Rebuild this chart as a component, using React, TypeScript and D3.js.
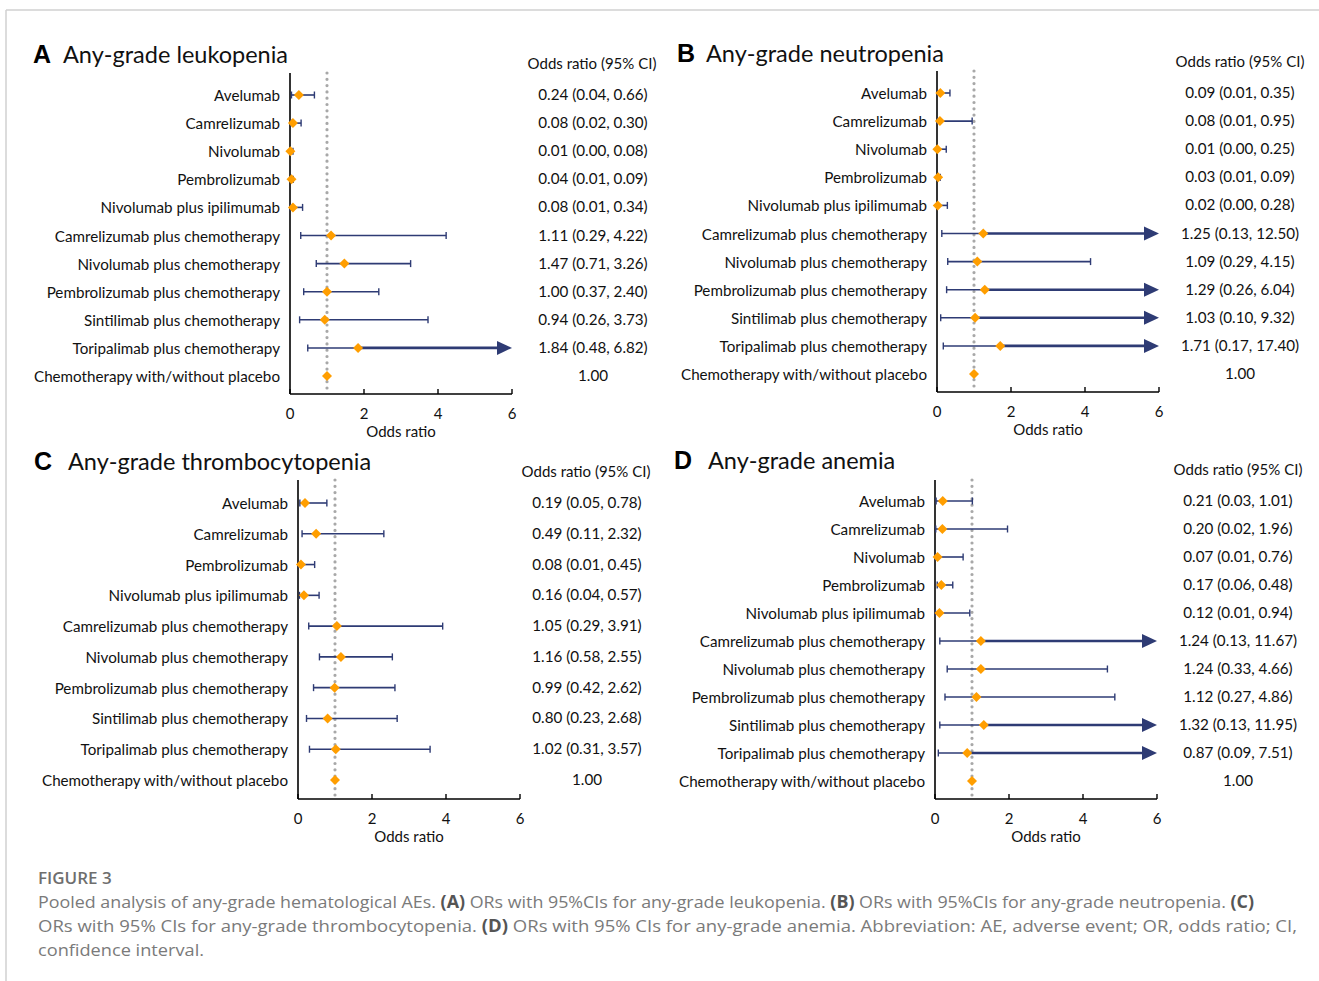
import React from "react";
import * as d3 from "d3";

// ---------- DATA ----------
const labelsABD = [
  "Avelumab",
  "Camrelizumab",
  "Nivolumab",
  "Pembrolizumab",
  "Nivolumab plus ipilimumab",
  "Camrelizumab plus chemotherapy",
  "Nivolumab plus chemotherapy",
  "Pembrolizumab plus chemotherapy",
  "Sintilimab plus chemotherapy",
  "Toripalimab plus chemotherapy",
  "Chemotherapy with/without placebo",
];
const labelsC = [
  "Avelumab",
  "Camrelizumab",
  "Pembrolizumab",
  "Nivolumab plus ipilimumab",
  "Camrelizumab plus chemotherapy",
  "Nivolumab plus chemotherapy",
  "Pembrolizumab plus chemotherapy",
  "Sintilimab plus chemotherapy",
  "Toripalimab plus chemotherapy",
  "Chemotherapy with/without placebo",
];

const orA = [0.24, 0.08, 0.01, 0.04, 0.08, 1.11, 1.47, 1.0, 0.94, 1.84, 1.0];
const loA = [0.04, 0.02, 0.0, 0.01, 0.01, 0.29, 0.71, 0.37, 0.26, 0.48, null];
const hiA = [0.66, 0.3, 0.08, 0.09, 0.34, 4.22, 3.26, 2.4, 3.73, 6.82, null];

const orB = [0.09, 0.08, 0.01, 0.03, 0.02, 1.25, 1.09, 1.29, 1.03, 1.71, 1.0];
const loB = [0.01, 0.01, 0.0, 0.01, 0.0, 0.13, 0.29, 0.26, 0.1, 0.17, null];
const hiB = [0.35, 0.95, 0.25, 0.09, 0.28, 12.5, 4.15, 6.04, 9.32, 17.4, null];

const orC = [0.19, 0.49, 0.08, 0.16, 1.05, 1.16, 0.99, 0.8, 1.02, 1.0];
const loC = [0.05, 0.11, 0.01, 0.04, 0.29, 0.58, 0.42, 0.23, 0.31, null];
const hiC = [0.78, 2.32, 0.45, 0.57, 3.91, 2.55, 2.62, 2.68, 3.57, null];

const orD = [0.21, 0.2, 0.07, 0.17, 0.12, 1.24, 1.24, 1.12, 1.32, 0.87, 1.0];
const loD = [0.03, 0.02, 0.01, 0.06, 0.01, 0.13, 0.33, 0.27, 0.13, 0.09, null];
const hiD = [1.01, 1.96, 0.76, 0.48, 0.94, 11.67, 4.66, 4.86, 11.95, 7.51, null];

const xTicks = [0, 2, 4, 6];
const xDomain = [0, 6];

// ---------- STYLE ----------
const FONT = "Lato, 'Open Sans', sans-serif";
const NAVY = "#2E3B74";
const ORANGE = "#FF9E00";
const DOT = "#A8A8A8";

type PanelProps = {
  letter: string;
  title: string;
  labels: string[];
  or: number[];
  lo: (number | null)[];
  hi: (number | null)[];
  x0: number;
  axisTop: number;
  axisY: number;
  rowFirst: number;
  rowLast: number;
  letterX: number;
  titleX: number;
  titleY: number;
  headerX: number;
  headerY: number;
  valueX: number;
};

const fmt = d3.format(".2f");

function Panel(p: PanelProps) {
  const x = d3.scaleLinear().domain(xDomain).range([p.x0, p.x0 + 222]);
  const y = d3.scalePoint<string>().domain(p.labels).range([p.rowFirst, p.rowLast]);
  const xMax = xDomain[1];
  return (
    <g>
      <text x={p.letterX} y={p.titleY} fontFamily="Liberation Sans, Arial, sans-serif" fontWeight="bold" fontSize={25} fill="#000" dominantBaseline="central">
        {p.letter}
      </text>
      <text x={p.titleX} y={p.titleY} fontFamily={FONT} fontSize={23.5} fill="#111" dominantBaseline="central">
        {p.title}
      </text>
      <text x={p.headerX} y={p.headerY} fontFamily={FONT} fontSize={15} fill="#111" textAnchor="middle" dominantBaseline="central">
        Odds ratio (95% CI)
      </text>
      {/* reference dotted line */}
      <line x1={x(1)} x2={x(1)} y1={p.axisTop} y2={p.axisY - 2} stroke={DOT} strokeWidth={3.2} strokeLinecap="round" strokeDasharray="0 6.3" />
      {/* axes */}
      <line x1={p.x0} x2={p.x0} y1={p.axisTop} y2={p.axisY} stroke="#000" strokeWidth={1.6} />
      <line x1={p.x0} x2={x(xMax)} y1={p.axisY} y2={p.axisY} stroke="#000" strokeWidth={1.6} />
      {xTicks.map((t) => (
        <g key={t}>
          <line x1={x(t)} x2={x(t)} y1={p.axisY} y2={p.axisY - 5} stroke="#000" strokeWidth={1.4} />
          <text x={x(t)} y={p.axisY + 19} fontFamily={FONT} fontSize={15} textAnchor="middle" dominantBaseline="central" fill="#111">
            {t}
          </text>
        </g>
      ))}
      <text x={x(3)} y={p.axisY + 37} fontFamily={FONT} fontSize={15} textAnchor="middle" dominantBaseline="central" fill="#111">
        Odds ratio
      </text>
      {p.labels.map((lab, i) => {
        const yy = y(lab)!;
        const lo = p.lo[i];
        const hi = p.hi[i];
        const or = p.or[i];
        const clipped = hi != null && hi > xMax;
        const d = 5;
        return (
          <g key={lab}>
            <text x={p.x0 - 10} y={yy} fontFamily={FONT} fontSize={15.2} textAnchor="end" dominantBaseline="central" fill="#111">
              {lab}
            </text>
            {lo != null && hi != null && (
              <g>
                {clipped ? (
                  <g>
                    <line x1={x(lo)} x2={x(or)} y1={yy} y2={yy} stroke={NAVY} strokeWidth={1.5} />
                    <line x1={x(or)} x2={x(xMax) - 12} y1={yy} y2={yy} stroke={NAVY} strokeWidth={2.6} />
                    <path d={`M${x(xMax)},${yy} L${x(xMax) - 15},${yy - 7} L${x(xMax) - 15},${yy + 7} Z`} fill={NAVY} />
                  </g>
                ) : (
                  <g>
                    <line x1={x(lo)} x2={x(hi)} y1={yy} y2={yy} stroke={NAVY} strokeWidth={1.6} />
                    <line x1={x(hi)} x2={x(hi)} y1={yy - 3.5} y2={yy + 3.5} stroke={NAVY} strokeWidth={1.4} />
                  </g>
                )}
                <line x1={x(lo)} x2={x(lo)} y1={yy - 3.5} y2={yy + 3.5} stroke={NAVY} strokeWidth={1.4} />
              </g>
            )}
            <path d={`M${x(or)},${yy - d} L${x(or) + d},${yy} L${x(or)},${yy + d} L${x(or) - d},${yy} Z`} fill={ORANGE} />
            <text x={p.valueX} y={yy - 1} fontFamily={FONT} fontSize={15.2} textAnchor="middle" dominantBaseline="central" fill="#111">
              {lo != null && hi != null ? `${fmt(or)} (${fmt(lo)}, ${fmt(hi)})` : fmt(or)}
            </text>
          </g>
        );
      })}
    </g>
  );
}

const CAP = "'Open Sans', sans-serif";
const CAPC = "#7a7a7a";

export default function App() {
  return (
    <svg width={1319} height={981} style={{ position: "absolute", left: 0, top: 0, background: "#fff" }}>
      <rect x={0} y={0} width={1319} height={981} fill="#fff" />
      <line x1={6} x2={1319} y1={10} y2={10} stroke="#d0d0d0" strokeWidth={1.5} />
      <line x1={6} x2={6} y1={10} y2={981} stroke="#d0d0d0" strokeWidth={1.5} />
      <Panel letter="A" title="Any-grade leukopenia" labels={labelsABD} or={orA} lo={loA} hi={hiA}
        x0={290} axisTop={73} axisY={394} rowFirst={95} rowLast={376}
        letterX={33} titleX={63} titleY={54} headerX={592} headerY={63} valueX={593} />
      <Panel letter="B" title="Any-grade neutropenia" labels={labelsABD} or={orB} lo={loB} hi={hiB}
        x0={937} axisTop={71} axisY={392} rowFirst={93} rowLast={374}
        letterX={677} titleX={706} titleY={53} headerX={1240} headerY={61} valueX={1240} />
      <Panel letter="C" title="Any-grade thrombocytopenia" labels={labelsC} or={orC} lo={loC} hi={hiC}
        x0={298} axisTop={480} axisY={799} rowFirst={503} rowLast={780}
        letterX={34} titleX={68} titleY={461} headerX={586} headerY={471} valueX={587} />
      <Panel letter="D" title="Any-grade anemia" labels={labelsABD} or={orD} lo={loD} hi={hiD}
        x0={935} axisTop={480} axisY={799} rowFirst={501} rowLast={781}
        letterX={674} titleX={708} titleY={460} headerX={1238} headerY={469} valueX={1238} />
      {/* caption */}
      <text x={38} y={877} fontFamily={CAP} fontSize={17} fill="#6e6e6e" fontWeight={600} dominantBaseline="central">
        FIGURE 3
      </text>
      <text x={38} y={901} fontFamily={CAP} fontSize={17} fill={CAPC} dominantBaseline="central" textLength={1216} lengthAdjust="spacingAndGlyphs">
        Pooled analysis of any-grade hematological AEs. <tspan fontWeight="bold" fill="#555">(A)</tspan> ORs with 95%CIs for any-grade leukopenia. <tspan fontWeight="bold" fill="#555">(B)</tspan> ORs with 95%CIs for any-grade neutropenia. <tspan fontWeight="bold" fill="#555">(C)</tspan>
      </text>
      <text x={38} y={925} fontFamily={CAP} fontSize={17} fill={CAPC} dominantBaseline="central" textLength={1259} lengthAdjust="spacingAndGlyphs">
        ORs with 95% CIs for any-grade thrombocytopenia. <tspan fontWeight="bold" fill="#555">(D)</tspan> ORs with 95% CIs for any-grade anemia. Abbreviation: AE, adverse event; OR, odds ratio; CI,
      </text>
      <text x={38} y={949} fontFamily={CAP} fontSize={17} fill={CAPC} dominantBaseline="central" textLength={166} lengthAdjust="spacingAndGlyphs">
        confidence interval.
      </text>
    </svg>
  );
}
